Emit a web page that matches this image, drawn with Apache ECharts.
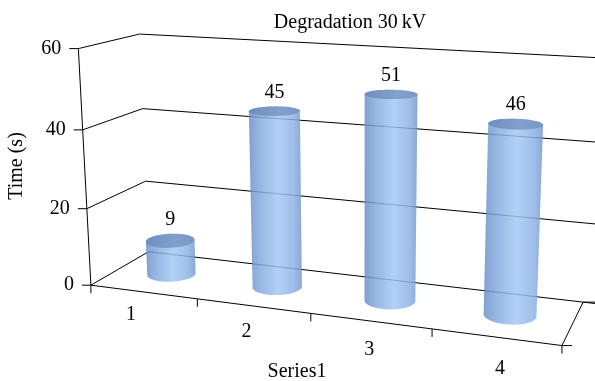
<!DOCTYPE html>
<html>
<head>
<meta charset="utf-8">
<script src="https://cdn.jsdelivr.net/npm/echarts@6/dist/echarts.min.js"></script>
<style>
  html, body { margin: 0; padding: 0; background: #fff; }
  #chart { width: 595px; height: 381px; }
</style>
</head>
<body>
<div id="chart"></div>
<script>
// data
const categories = ["1", "2", "3", "4"];
const times = [9, 45, 51, 46];
const valueTicks = [0, 20, 40, 60];
const titleText = "Degradation 30\u2009kV";
const xName = "Series1";
const yName = "Time (s)";

const FONT = "'Liberation Serif', 'DejaVu Serif', serif";

// perspective box: unit cube corners (u, v, depth) -> picture pixels
const calib = [
  [0, 0, 0, 91, 285], [0, 1, 0, 78, 50], [0, 0, 1, 148, 252], [0, 1, 1, 140, 33],
  [1, 0, 1, 583, 303], [1, 0, 0, 563, 345], [1, 1, 1, 594, 57],
  [0, 1 / 3, 0, 87, 208], [0, 2 / 3, 0, 82, 130],
  [0, 1 / 3, 1, 146, 182], [0, 2 / 3, 1, 143, 108],
  [1, 1 / 3, 1, 586, 222], [1, 2 / 3, 1, 590, 143],
  [0.25, 0, 0, 198, 299], [0.5, 0, 0, 310, 313], [0.75, 0, 0, 432, 329]
];

function solveDLT(pts) {
  const A = [], b = [];
  pts.forEach(([X, Y, Z, x, y]) => {
    x /= 100; y /= 100;
    A.push([X, Y, Z, 1, 0, 0, 0, 0, -x * X, -x * Y, -x * Z]); b.push(x);
    A.push([0, 0, 0, 0, X, Y, Z, 1, -y * X, -y * Y, -y * Z]); b.push(y);
  });
  const n = 11, M = [];
  for (let i = 0; i < n; i++) {
    const row = [];
    for (let j = 0; j < n; j++) {
      let s = 0;
      for (let k = 0; k < A.length; k++) s += A[k][i] * A[k][j];
      row.push(s);
    }
    let s = 0;
    for (let k = 0; k < A.length; k++) s += A[k][i] * b[k];
    row.push(s);
    M.push(row);
  }
  for (let c = 0; c < n; c++) {
    let piv = c;
    for (let r = c + 1; r < n; r++) if (Math.abs(M[r][c]) > Math.abs(M[piv][c])) piv = r;
    [M[c], M[piv]] = [M[piv], M[c]];
    for (let r = 0; r < n; r++) {
      if (r === c) continue;
      const f = M[r][c] / M[c][c];
      for (let k = c; k <= n; k++) M[r][k] -= f * M[c][k];
    }
  }
  return M.map((row, i) => row[n] / row[i]);
}

const p = solveDLT(calib);
function P(u, v, d) {
  const w = p[8] * u + p[9] * v + p[10] * d + 1;
  return [
    (100 * (p[0] * u + p[1] * v + p[2] * d + p[3])) / w,
    (100 * (p[4] * u + p[5] * v + p[6] * d + p[7])) / w
  ];
}

function toUnit(params, pt) {
  const cs = params.coordSys;
  return [(pt[0] - cs.x) / cs.width, (cs.y + cs.height - pt[1]) / cs.height];
}

function line(a, b, w) {
  return {
    type: "line",
    shape: { x1: a[0], y1: a[1], x2: b[0], y2: b[1] },
    style: { stroke: "#000", lineWidth: w || 1 }
  };
}

function label(x, y, text, align) {
  return {
    type: "text",
    style: {
      x: x, y: y, text: text, fill: "#000",
      font: "20px " + FONT,
      align: align || "center",
      verticalAlign: "middle"
    }
  };
}

function hull(pts) {
  const s = pts.slice().sort((a, b) => a[0] - b[0] || a[1] - b[1]);
  const cross = (o, a, b) => (a[0] - o[0]) * (b[1] - o[1]) - (a[1] - o[1]) * (b[0] - o[0]);
  const lo = [], up = [];
  s.forEach(q => {
    while (lo.length >= 2 && cross(lo[lo.length - 2], lo[lo.length - 1], q) <= 0) lo.pop();
    lo.push(q);
  });
  s.slice().reverse().forEach(q => {
    while (up.length >= 2 && cross(up[up.length - 2], up[up.length - 1], q) <= 0) up.pop();
    up.push(q);
  });
  return lo.slice(0, -1).concat(up.slice(0, -1));
}

// back wall + left wall grid lines, value axis
function renderWalls(params, api) {
  const val = api.value(1);
  const v = toUnit(params, api.coord([0, val]))[1];
  const a = P(0, v, 0), b = P(0, v, 1), c = P(1.05, v, 1);
  const children = [
    { type: "polyline", shape: { points: [a, b, c] }, style: { stroke: "#000", lineWidth: 1, fill: null } },
    line([a[0] - 9, a[1]], a),
    label(a[0] - 17, a[1], String(val), "right")
  ];
  if (params.dataIndex === 0) {
    const vTop = toUnit(params, api.coord([0, valueTicks[valueTicks.length - 1]]))[1];
    children.push(line(P(0, 0, 0), P(0, vTop, 0)));
  }
  return { type: "group", children: children };
}

// front floor edge, category ticks and labels
function renderFloor(params, api) {
  const i = api.value(0);
  const cs = params.coordSys;
  const pt = api.coord([i, 0]);
  const half = api.size([1, 0])[0] / 2;
  const u0 = (pt[0] - half - cs.x) / cs.width;
  const u1 = (pt[0] + half - cs.x) / cs.width;
  const uc = (pt[0] - cs.x) / cs.width;
  const a = P(u0, 0, 0), b = P(u1, 0, 0), m = P(uc, 0, 0);
  const children = [
    line(a, b),
    line(a, [a[0], a[1] + 8]),
    label(m[0] - 15 + 22 * uc, m[1] + 21 + 12 * uc, categories[i])
  ];
  if (i === categories.length - 1) {
    const back = P(u1, 0, 1);
    children.push(line([b[0], b[1] + 8], b));
    children.push(line(b, back));
    children.push(line(b, [b[0] + 10, b[1]]));
    children.push(line(back, [back[0] + 12, back[1]]));
  }
  return { type: "group", children: children };
}

const ru = 0.052, rd = 0.21, N = 60;
function renderCylinder(params, api) {
  const cs = params.coordSys;
  const top = api.coord([api.value(0), api.value(1)]);
  const uc = (top[0] - cs.x) / cs.width;
  const vt = toUnit(params, top)[1];
  const bot = [], cap = [];
  for (let k = 0; k < N; k++) {
    const t = (k / N) * Math.PI * 2;
    const u = uc + ru * Math.cos(t), d = 0.5 + rd * Math.sin(t);
    bot.push(P(u, 0, d));
    cap.push(P(u, vt, d));
  }
  const body = hull(bot.concat(cap));
  const capTop = Math.min.apply(null, cap.map(q => q[1]));
  const cx = cap.reduce((s, q) => s + q[0], 0) / N;
  return {
    type: "group",
    children: [
      {
        type: "polygon",
        shape: { points: body },
        style: {
          opacity: 0.84,
          fill: new echarts.graphic.LinearGradient(0, 0, 1, 0, [
            { offset: 0, color: "#6a8ec6" },
            { offset: 0.2, color: "#82a8dc" },
            { offset: 0.55, color: "#a4c8f4" },
            { offset: 0.85, color: "#8cb2e6" },
            { offset: 1, color: "#7398cc" }
          ])
        }
      },
      {
        type: "polygon",
        shape: { points: cap },
        style: {
          opacity: 0.9,
          fill: new echarts.graphic.LinearGradient(0, 0, 1, 0, [
            { offset: 0, color: "#6a8abb" },
            { offset: 0.6, color: "#7c9bc8" },
            { offset: 1, color: "#7494c3" }
          ])
        }
      },
      {
        type: "text",
        style: {
          x: cx, y: capTop - 4, text: String(api.value(1)), fill: "#000",
          font: "20px " + FONT, align: "center", verticalAlign: "bottom"
        }
      }
    ]
  };
}

const chart = echarts.init(document.getElementById("chart"), null, { renderer: "canvas" });
chart.setOption({
  animation: false,
  backgroundColor: "#fff",
  title: {
    text: titleText,
    left: 345,
    top: 8,
    textAlign: "center",
    textStyle: { fontFamily: FONT, fontSize: 20, fontWeight: "normal", color: "#000" }
  },
  grid: { left: 91, right: 32, top: 50, bottom: 96 },
  xAxis: { type: "category", data: categories, show: false },
  yAxis: { type: "value", min: 0, max: 60, interval: 20, show: false },
  graphic: [
    {
      type: "text", x: 17, y: 166, rotation: Math.PI / 2,
      style: { text: yName, font: "20px " + FONT, fill: "#000", align: "center", verticalAlign: "middle" }
    },
    {
      type: "text", x: 297, y: 372,
      style: { text: xName, font: "20px " + FONT, fill: "#000", align: "center", verticalAlign: "middle" }
    }
  ],
  series: [
    { type: "custom", name: "walls", clip: false, silent: true, z: 1,
      data: valueTicks.map(v => [0, v]), renderItem: renderWalls },
    { type: "custom", name: "floor", clip: false, silent: true, z: 1,
      data: categories.map((c, i) => [i, 0]), renderItem: renderFloor },
    { type: "custom", name: "Series1", clip: false, z: 2,
      data: times.map((t, i) => [i, t]), renderItem: renderCylinder }
  ]
});
</script>
</body>
</html>
